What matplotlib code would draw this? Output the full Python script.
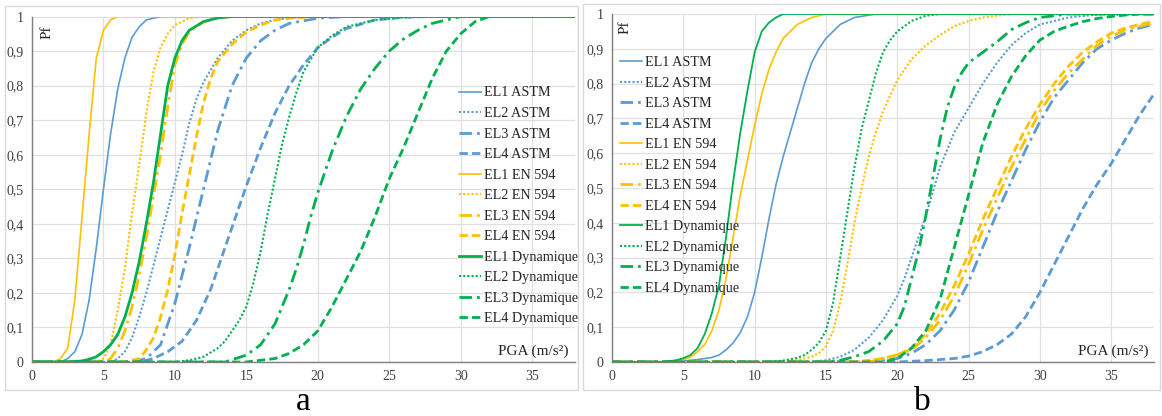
import matplotlib
matplotlib.use("Agg")
import matplotlib.pyplot as plt
from matplotlib.patches import Rectangle

plt.rcParams['font.family'] = ['Liberation Serif', 'DejaVu Serif']

# ---------------- data (PGA in m/s², probability of failure) ----------------
labels = ["EL1 ASTM", "EL2 ASTM", "EL3 ASTM", "EL4 ASTM",
          "EL1 EN 594", "EL2 EN 594", "EL3 EN 594", "EL4 EN 594",
          "EL1 Dynamique", "EL2 Dynamique", "EL3 Dynamique", "EL4 Dynamique"]
x_ticks = [0, 5, 10, 15, 20, 25, 30, 35]
y_ticks = [0, 0.1, 0.2, 0.3, 0.4, 0.5, 0.6, 0.7, 0.8, 0.9, 1.0]
y_tick_labels = ["0", "0,1", "0,2", "0,3", "0,4", "0,5", "0,6", "0,7", "0,8", "0,9", "1"]

# panel a
a_astm1_x = [0, 2, 2.5, 3, 3.5, 4, 4.5, 5, 5.5, 6, 6.5, 7, 7.5, 8, 9, 38]
a_astm1_p = [0, 0, 0.01, 0.03, 0.08, 0.18, 0.33, 0.5, 0.66, 0.79, 0.88, 0.94, 0.97, 0.99, 1, 1]
a_astm2_x = [0, 5.5, 6, 6.5, 7, 7.5, 8, 8.5, 9, 9.5, 10, 10.5, 11, 11.5, 12, 13, 14, 15, 16, 17, 19, 38]
a_astm2_p = [0, 0, 0.01, 0.03, 0.07, 0.13, 0.2, 0.28, 0.36, 0.44, 0.52, 0.6, 0.69, 0.76, 0.81, 0.88, 0.93, 0.96, 0.98, 0.99, 1, 1]
a_astm3_x = [0, 7, 8, 9, 10, 11, 12, 13, 14, 15, 16, 17, 18, 20, 22, 38]
a_astm3_p = [0, 0, 0.01, 0.05, 0.17, 0.33, 0.5, 0.67, 0.8, 0.88, 0.93, 0.96, 0.98, 0.995, 1, 1]
a_astm4_x = [0, 7.5, 8.5, 9.5, 10.5, 11.5, 12.5, 13.5, 15, 16, 17, 18, 19, 20, 21, 22, 24, 26, 28, 38]
a_astm4_p = [0, 0, 0.01, 0.03, 0.06, 0.12, 0.21, 0.33, 0.51, 0.62, 0.72, 0.8, 0.86, 0.91, 0.94, 0.965, 0.99, 0.998, 1, 1]
a_en1_x = [0, 1.5, 2, 2.5, 3, 3.5, 4, 4.5, 5, 5.5, 6, 38]
a_en1_p = [0, 0, 0.01, 0.04, 0.18, 0.42, 0.66, 0.88, 0.96, 0.99, 1, 1]
a_en2_x = [0, 4.5, 5, 5.5, 6, 6.5, 7, 7.5, 8, 8.5, 9, 9.5, 10, 11, 12, 38]
a_en2_p = [0, 0, 0.01, 0.05, 0.15, 0.27, 0.43, 0.57, 0.72, 0.84, 0.91, 0.95, 0.975, 0.995, 1, 1]
a_en3_x = [0, 5, 5.5, 6, 6.5, 7, 7.5, 8, 8.5, 9, 9.5, 10, 10.5, 11, 12, 13, 14, 38]
a_en3_p = [0, 0, 0.01, 0.04, 0.09, 0.16, 0.25, 0.36, 0.48, 0.6, 0.74, 0.86, 0.92, 0.955, 0.985, 0.996, 1, 1]
a_en4_x = [0, 6.5, 7.5, 8, 8.5, 9, 9.5, 10, 10.5, 11, 11.5, 12, 12.5, 13, 14, 15, 16, 17, 18, 20, 38]
a_en4_p = [0, 0, 0.01, 0.035, 0.07, 0.13, 0.21, 0.31, 0.43, 0.54, 0.65, 0.75, 0.82, 0.87, 0.92, 0.955, 0.975, 0.99, 0.995, 1, 1]
a_dyn1_x = [0, 2.5, 3.5, 4, 4.5, 5, 5.5, 6, 6.5, 7, 7.5, 8, 8.5, 9, 9.5, 10, 10.5, 11, 12, 13, 14, 38]
a_dyn1_p = [0, 0, 0.003, 0.008, 0.015, 0.03, 0.05, 0.08, 0.13, 0.2, 0.29, 0.4, 0.52, 0.66, 0.8, 0.88, 0.93, 0.96, 0.985, 0.996, 1, 1]
a_dyn2_x = [0, 10, 11, 12, 13, 13.5, 14, 14.5, 15, 15.5, 16, 16.5, 17, 17.5, 18, 18.5, 19, 20, 21, 22, 24, 26, 28, 38]
a_dyn2_p = [0, 0, 0.005, 0.015, 0.04, 0.06, 0.09, 0.12, 0.16, 0.23, 0.32, 0.43, 0.53, 0.63, 0.71, 0.78, 0.84, 0.91, 0.945, 0.97, 0.99, 0.997, 1, 1]
a_dyn3_x = [0, 13.5, 15, 16, 17, 17.5, 18, 18.5, 19, 19.5, 20, 20.5, 21, 22, 23, 24, 25, 26, 27, 28, 29, 30, 38]
a_dyn3_p = [0, 0, 0.02, 0.05, 0.11, 0.16, 0.21, 0.27, 0.34, 0.42, 0.49, 0.55, 0.61, 0.71, 0.79, 0.85, 0.9, 0.935, 0.96, 0.98, 0.99, 1, 1]
a_dyn4_x = [0, 15, 17, 18, 19, 20, 21, 22, 23, 24, 25, 26, 27, 28, 29, 30, 31, 32, 38]
a_dyn4_p = [0, 0, 0.01, 0.025, 0.05, 0.09, 0.16, 0.24, 0.32, 0.42, 0.53, 0.62, 0.72, 0.82, 0.9, 0.95, 0.985, 1, 1]

# panel b
b_astm1_x = [0, 4, 5, 6, 7, 7.5, 8, 8.5, 9, 9.5, 10, 10.5, 11, 11.5, 12, 12.5, 13, 13.5, 14, 14.5, 15, 16, 17, 18.5, 38]
b_astm1_p = [0, 0, 0.003, 0.007, 0.013, 0.02, 0.035, 0.055, 0.085, 0.13, 0.2, 0.3, 0.41, 0.51, 0.59, 0.66, 0.73, 0.8, 0.86, 0.9, 0.93, 0.97, 0.99, 1, 1]
b_astm2_x = [0, 14, 15, 16, 17, 18, 19, 20, 20.5, 21, 21.5, 22, 22.5, 23, 24, 25, 26, 27, 28, 29, 30, 31, 32, 34, 38]
b_astm2_p = [0, 0, 0.005, 0.015, 0.035, 0.07, 0.12, 0.19, 0.24, 0.3, 0.36, 0.42, 0.49, 0.56, 0.66, 0.73, 0.8, 0.86, 0.91, 0.945, 0.97, 0.98, 0.99, 0.998, 1]
b_astm3_x = [0, 18, 19, 20, 21, 22, 23, 24, 25, 26, 27, 28, 29, 30, 31, 32, 33, 34, 35, 36, 37, 38]
b_astm3_p = [0, 0, 0.005, 0.01, 0.025, 0.05, 0.09, 0.15, 0.23, 0.33, 0.43, 0.52, 0.61, 0.69, 0.76, 0.81, 0.86, 0.9, 0.925, 0.945, 0.96, 0.97]
b_astm4_x = [0, 20, 22, 24, 25, 26, 27, 28, 29, 30, 31, 32, 33, 34, 35, 36, 37, 38]
b_astm4_p = [0, 0, 0.004, 0.01, 0.017, 0.03, 0.05, 0.08, 0.13, 0.2, 0.28, 0.36, 0.44, 0.51, 0.57, 0.64, 0.71, 0.77]
b_en1_x = [0, 3.5, 4.5, 5, 5.5, 6, 6.5, 7, 7.5, 8, 8.5, 9, 9.5, 10, 10.5, 11, 11.5, 12, 13, 14, 15, 38]
b_en1_p = [0, 0, 0.004, 0.007, 0.014, 0.03, 0.05, 0.09, 0.15, 0.24, 0.36, 0.48, 0.58, 0.68, 0.77, 0.84, 0.89, 0.93, 0.97, 0.99, 1, 1]
b_en2_x = [0, 12, 13, 14, 14.5, 15, 15.5, 16, 16.5, 17, 17.5, 18, 18.5, 19, 20, 21, 22, 23, 24, 25, 26, 28, 38]
b_en2_p = [0, 0, 0.005, 0.015, 0.025, 0.045, 0.09, 0.17, 0.28, 0.4, 0.5, 0.59, 0.66, 0.72, 0.81, 0.87, 0.91, 0.94, 0.965, 0.98, 0.99, 1, 1]
b_en3_x = [0, 18, 19, 20, 21, 22, 23, 24, 25, 26, 27, 28, 29, 30, 31, 32, 33, 34, 35, 36, 37, 38]
b_en3_p = [0, 0, 0.01, 0.02, 0.035, 0.07, 0.12, 0.19, 0.28, 0.38, 0.47, 0.56, 0.64, 0.72, 0.78, 0.83, 0.87, 0.91, 0.935, 0.955, 0.965, 0.975]
b_en4_x = [0, 17, 18, 19, 20, 21, 22, 23, 24, 25, 26, 27, 28, 29, 30, 31, 32, 33, 34, 35, 36, 37, 38]
b_en4_p = [0, 0, 0.005, 0.01, 0.02, 0.04, 0.08, 0.14, 0.22, 0.31, 0.41, 0.5, 0.59, 0.67, 0.74, 0.8, 0.85, 0.89, 0.92, 0.945, 0.96, 0.97, 0.98]
b_dyn1_x = [0, 3.5, 4.5, 5, 5.5, 6, 6.5, 7, 7.5, 8, 8.5, 9, 9.5, 10, 10.5, 11, 11.5, 12, 38]
b_dyn1_p = [0, 0, 0.005, 0.011, 0.02, 0.04, 0.08, 0.14, 0.22, 0.36, 0.52, 0.66, 0.78, 0.89, 0.95, 0.975, 0.99, 1, 1]
b_dyn2_x = [0, 11, 12, 13, 13.5, 14, 14.5, 15, 15.5, 16, 16.5, 17, 17.5, 18, 18.5, 19, 19.5, 20, 21, 22, 23, 38]
b_dyn2_p = [0, 0, 0.004, 0.012, 0.02, 0.035, 0.055, 0.09, 0.17, 0.3, 0.43, 0.56, 0.67, 0.75, 0.83, 0.89, 0.925, 0.95, 0.98, 0.995, 1, 1]
b_dyn3_x = [0, 15, 16, 17, 18, 19, 20, 20.5, 21, 21.5, 22, 22.5, 23, 23.5, 24, 24.5, 25, 26, 27, 28, 29, 30, 32, 38]
b_dyn3_p = [0, 0, 0.005, 0.015, 0.03, 0.06, 0.11, 0.16, 0.24, 0.32, 0.42, 0.53, 0.64, 0.73, 0.79, 0.83, 0.86, 0.89, 0.92, 0.955, 0.975, 0.99, 1, 1]
b_dyn4_x = [0, 19, 20, 21, 22, 23, 24, 25, 26, 27, 28, 29, 30, 31, 32, 33, 34, 35, 36, 37, 38]
b_dyn4_p = [0, 0, 0.01, 0.04, 0.09, 0.18, 0.33, 0.48, 0.63, 0.74, 0.82, 0.88, 0.925, 0.95, 0.965, 0.978, 0.987, 0.993, 0.997, 1, 1]

# ---------------- styles ----------------
BLUE, YELLOW, GREEN = "#5B9BD5", "#FFC000", "#00B050"
DOT = (0, (1, 1))
DASHDOT = (0, (4.5, 1.8, 1, 1.8))
DASH = (0, (3, 1.5))
styles = [
    (BLUE, "-", 1.2), (BLUE, DOT, 1.5), (BLUE, DASHDOT, 2.0), (BLUE, DASH, 2.0),
    (YELLOW, "-", 1.2), (YELLOW, DOT, 1.5), (YELLOW, DASHDOT, 2.0), (YELLOW, DASH, 2.0),
    (GREEN, "-", 2.0), (GREEN, DOT, 1.5), (GREEN, DASHDOT, 2.0), (GREEN, DASH, 2.0),
]

series_a = [(a_astm1_x, a_astm1_p), (a_astm2_x, a_astm2_p), (a_astm3_x, a_astm3_p), (a_astm4_x, a_astm4_p),
            (a_en1_x, a_en1_p), (a_en2_x, a_en2_p), (a_en3_x, a_en3_p), (a_en4_x, a_en4_p),
            (a_dyn1_x, a_dyn1_p), (a_dyn2_x, a_dyn2_p), (a_dyn3_x, a_dyn3_p), (a_dyn4_x, a_dyn4_p)]
series_b = [(b_astm1_x, b_astm1_p), (b_astm2_x, b_astm2_p), (b_astm3_x, b_astm3_p), (b_astm4_x, b_astm4_p),
            (b_en1_x, b_en1_p), (b_en2_x, b_en2_p), (b_en3_x, b_en3_p), (b_en4_x, b_en4_p),
            (b_dyn1_x, b_dyn1_p), (b_dyn2_x, b_dyn2_p), (b_dyn3_x, b_dyn3_p), (b_dyn4_x, b_dyn4_p)]

W, H = 1162, 416
fig = plt.figure(figsize=(W / 100, H / 100), dpi=100)
fig.patch.set_facecolor("white")


def fx(px):
    return px / W


def fy(py):
    return 1 - py / H


# panel borders
for (x0, y0, x1, y1) in [(5, 6, 578, 390), (583, 4, 1160, 390)]:
    fig.add_artist(Rectangle((fx(x0), fy(y1)), fx(x1 - x0), (y1 - y0) / H,
                             transform=fig.transFigure, fill=False,
                             edgecolor="#D9D9D9", linewidth=1.0))


def make_panel(left, right, top, bottom, series, lw_scale, legend_xy, pf_xy, lab, lab_xy):
    ax = fig.add_axes([fx(left), fy(bottom), fx(right - left), (bottom - top) / H])
    for (xs, ps), lab_s, (c, ls, lw) in zip(series, labels, styles):
        ax.plot(xs, ps, color=c, linestyle=ls, linewidth=lw * lw_scale(lab_s), label=lab_s)
    ax.set_xlim(0, 38)
    ax.set_ylim(0, 1)
    ax.set_xticks(x_ticks)
    ax.set_yticks(y_ticks)
    ax.set_yticklabels(y_tick_labels)
    ax.tick_params(length=0, labelsize=10, colors="#404040", pad=6)
    ax.grid(True, color="#E0E0E0", linewidth=0.9)
    ax.set_axisbelow(True)
    for s in ["top", "right"]:
        ax.spines[s].set_visible(False)
    for s in ["left", "bottom"]:
        ax.spines[s].set_color("#7F7F7F")
        ax.spines[s].set_linewidth(1.0)
    leg = ax.legend(loc="upper left", bbox_to_anchor=(fx(legend_xy[0]), fy(legend_xy[1])),
                    bbox_transform=fig.transFigure, frameon=False, fontsize=10.2,
                    handlelength=1.55, handletextpad=0.2, labelspacing=0.53,
                    borderpad=0, borderaxespad=0)
    for t in leg.get_texts():
        t.set_color("#262626")
    fig.text(fx(right - 6), fy(351), "PGA (m/s²)", ha="right", va="center",
             fontsize=11, color="#262626")
    fig.text(fx(pf_xy[0]), fy(pf_xy[1]), "Pf", rotation=90, ha="center", va="center",
             fontsize=11, color="#262626")
    fig.text(fx(lab_xy[0]), fy(lab_xy[1]), lab, ha="center", va="center", fontsize=24, color="black")
    return ax


make_panel(32, 575, 16.5, 362, series_a, lambda s: 1.0,
           (459, 86.5), (47, 32), "a", (303, 402))
make_panel(612, 1154, 14, 362, series_b, lambda s: 0.65 if s == "EL1 Dynamique" else 1.0,
           (620, 56), (625, 27), "b", (922, 402))

fig.savefig("out.png", dpi=100, facecolor="white")
